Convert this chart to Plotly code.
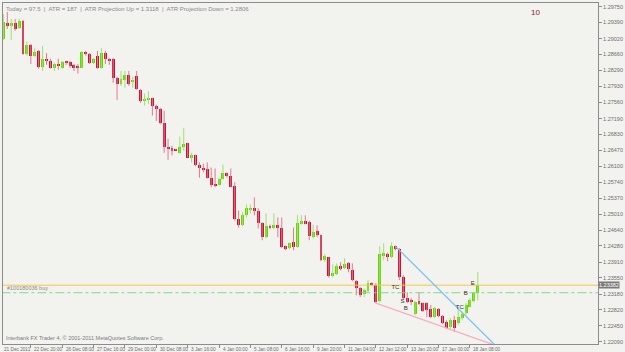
import plotly.graph_objects as go

# ---------------- data (H4 candles) ----------------
bar_index = list(range(122))

opens = [1.2901, 1.2938, 1.2931, 1.2938, 1.2926, 1.2942, 1.2867, 1.2888, 1.2863, 1.2874,
         1.2838, 1.2856, 1.2851, 1.2835, 1.2844, 1.2835, 1.2849, 1.2849, 1.2842, 1.2838,
         1.2835, 1.2872, 1.2867, 1.2847, 1.2863, 1.2835, 1.2869, 1.2856, 1.2856, 1.2812,
         1.2799, 1.2808, 1.2819, 1.2803, 1.2817, 1.2785, 1.2760, 1.2762, 1.2767, 1.2749,
         1.2742, 1.2708, 1.2655, 1.2653, 1.2648, 1.2641, 1.2655, 1.2664, 1.2630, 1.2637,
         1.2612, 1.2607, 1.2605, 1.2584, 1.2568, 1.2568, 1.2582, 1.2594, 1.2589, 1.2564,
         1.2489, 1.2475, 1.2498, 1.2511, 1.2514, 1.2509, 1.2480, 1.2448, 1.2473, 1.2468,
         1.2475, 1.2470, 1.2427, 1.2423, 1.2436, 1.2425, 1.2480, 1.2484, 1.2482, 1.2448,
         1.2461, 1.2452, 1.2395, 1.2402, 1.2359, 1.2363, 1.2381, 1.2377, 1.2388, 1.2372,
         1.2347, 1.2331, 1.2318, 1.2325, 1.2343, 1.2338, 1.2302, 1.2407, 1.2409, 1.2402,
         1.2427, 1.2420, 1.2356, 1.2309, 1.2304, 1.2272, 1.2302, 1.2297, 1.2297, 1.2283,
         1.2265, 1.2283, 1.2268, 1.2254, 1.2242, 1.2258, 1.2252, 1.2263, 1.2274, 1.2288,
         1.2302, 1.2320]
highs = [1.2958, 1.2963, 1.2947, 1.2947, 1.2947, 1.2945, 1.2895, 1.2890, 1.2881, 1.2876,
         1.2885, 1.2869, 1.2856, 1.2847, 1.2856, 1.2851, 1.2851, 1.2851, 1.2844, 1.2844,
         1.2874, 1.2874, 1.2869, 1.2858, 1.2874, 1.2881, 1.2874, 1.2858, 1.2858, 1.2815,
         1.2828, 1.2828, 1.2828, 1.2815, 1.2828, 1.2787, 1.2776, 1.2781, 1.2767, 1.2751,
         1.2744, 1.2737, 1.2673, 1.2657, 1.2650, 1.2678, 1.2698, 1.2664, 1.2641, 1.2637,
         1.2619, 1.2616, 1.2619, 1.2607, 1.2605, 1.2584, 1.2614, 1.2596, 1.2605, 1.2573,
         1.2509, 1.2505, 1.2523, 1.2523, 1.2539, 1.2514, 1.2482, 1.2502, 1.2477, 1.2502,
         1.2493, 1.2493, 1.2429, 1.2436, 1.2470, 1.2498, 1.2498, 1.2498, 1.2486, 1.2477,
         1.2475, 1.2454, 1.2409, 1.2402, 1.2386, 1.2388, 1.2391, 1.2400, 1.2391, 1.2388,
         1.2350, 1.2334, 1.2331, 1.2350, 1.2345, 1.2343, 1.2427, 1.2434, 1.2413, 1.2436,
         1.2429, 1.2423, 1.2361, 1.2322, 1.2309, 1.2302, 1.2322, 1.2299, 1.2299, 1.2293,
         1.2288, 1.2286, 1.2270, 1.2258, 1.2263, 1.2268, 1.2288, 1.2277, 1.2297, 1.2309,
         1.2322, 1.2368]
lows = [1.2899, 1.2924, 1.2899, 1.2920, 1.2924, 1.2865, 1.2863, 1.2844, 1.2860, 1.2833,
        1.2828, 1.2842, 1.2833, 1.2828, 1.2831, 1.2833, 1.2842, 1.2835, 1.2828, 1.2822,
        1.2834, 1.2863, 1.2844, 1.2844, 1.2833, 1.2833, 1.2844, 1.2842, 1.2801, 1.2762,
        1.2794, 1.2790, 1.2794, 1.2790, 1.2785, 1.2755, 1.2749, 1.2753, 1.2726, 1.2714,
        1.2706, 1.2641, 1.2625, 1.2635, 1.2646, 1.2639, 1.2646, 1.2630, 1.2619, 1.2610,
        1.2584, 1.2596, 1.2582, 1.2562, 1.2562, 1.2566, 1.2580, 1.2584, 1.2562, 1.2486,
        1.2470, 1.2473, 1.2493, 1.2502, 1.2498, 1.2468, 1.2441, 1.2445, 1.2466, 1.2466,
        1.2448, 1.2423, 1.2418, 1.2420, 1.2418, 1.2423, 1.2477, 1.2477, 1.2441, 1.2445,
        1.2448, 1.2393, 1.2391, 1.2356, 1.2356, 1.2361, 1.2372, 1.2375, 1.2368, 1.2347,
        1.2315, 1.2311, 1.2311, 1.2322, 1.2336, 1.2297, 1.2299, 1.2395, 1.2393, 1.2400,
        1.2418, 1.2350, 1.2304, 1.2297, 1.2293, 1.2270, 1.2293, 1.2277, 1.2265, 1.2263,
        1.2263, 1.2265, 1.2249, 1.2238, 1.2236, 1.2231, 1.2247, 1.2258, 1.2270, 1.2288,
        1.2299, 1.2304]
closes = [1.2940, 1.2931, 1.2938, 1.2924, 1.2942, 1.2867, 1.2888, 1.2863, 1.2872, 1.2838,
          1.2856, 1.2851, 1.2835, 1.2844, 1.2840, 1.2849, 1.2847, 1.2840, 1.2835, 1.2835,
          1.2872, 1.2867, 1.2847, 1.2856, 1.2835, 1.2869, 1.2856, 1.2851, 1.2812, 1.2799,
          1.2810, 1.2819, 1.2799, 1.2808, 1.2787, 1.2760, 1.2765, 1.2767, 1.2749, 1.2742,
          1.2708, 1.2655, 1.2651, 1.2644, 1.2647, 1.2655, 1.2662, 1.2630, 1.2637, 1.2612,
          1.2607, 1.2603, 1.2584, 1.2568, 1.2567, 1.2582, 1.2594, 1.2589, 1.2562, 1.2489,
          1.2475, 1.2498, 1.2514, 1.2514, 1.2507, 1.2480, 1.2448, 1.2473, 1.2468, 1.2475,
          1.2470, 1.2425, 1.2423, 1.2434, 1.2425, 1.2480, 1.2484, 1.2480, 1.2450, 1.2459,
          1.2452, 1.2395, 1.2404, 1.2359, 1.2366, 1.2381, 1.2377, 1.2386, 1.2375, 1.2350,
          1.2331, 1.2315, 1.2327, 1.2343, 1.2338, 1.2299, 1.2409, 1.2411, 1.2402, 1.2427,
          1.2420, 1.2356, 1.2309, 1.2299, 1.2299, 1.2299, 1.2295, 1.2279, 1.2281, 1.2265,
          1.2286, 1.2268, 1.2252, 1.2240, 1.2258, 1.2240, 1.2265, 1.2272, 1.2293, 1.2304,
          1.2320, 1.2338]

date_labels = ["21 Dec 2011", "22 Dec 20:00", "26 Dec 08:00", "27 Dec 16:00", "29 Dec 00:00",
               "30 Dec 08:00", "3 Jan 16:00", "4 Jan 00:00", "5 Jan 08:00", "6 Jan 16:00",
               "9 Jan 20:00", "11 Jan 04:00", "12 Jan 12:00", "13 Jan 20:00", "17 Jan 00:00",
               "18 Jan 08:00"]
date_bars = [-1, 7, 15, 23, 31, 39, 47, 55, 63, 71, 79, 87, 95, 103, 111, 119]

price_ticks = [1.29750, 1.29390, 1.29020, 1.28660, 1.28290, 1.27930, 1.27560, 1.27190,
               1.26830, 1.26470, 1.26100, 1.25740, 1.25370, 1.25010, 1.24640, 1.24280,
               1.23910, 1.23550, 1.23180, 1.22820, 1.22450, 1.22090]

bid_price = 1.23382
order_price = 1.2321
order_label = "#100180036 buy"

# trend lines (bar, price)
blue_line_bars = [100, 126]
blue_line_prices = [1.2427, 1.2196]
pink_line_bars = [95, 126]
pink_line_prices = [1.2297, 1.2199]

# pattern markers
marker_texts = ["TC", "S", "B", "TC", "B", "E"]
marker_bars = [100.0, 101.8, 102.6, 116.4, 117.9, 119.7]
marker_prices = [1.2334, 1.2302, 1.2284, 1.2288, 1.2320, 1.2343]

info_text = "Today = 97.5  |  ATR = 187  |  ATR Projection Up = 1.3118  |  ATR Projection Down = 1.2806"
corner_number = "10"
copyright_text = "Interbank FX Trader 4, \u00a9 2001-2011 MetaQuotes Software Corp."

# ---------------- styling ----------------
BG = "#F2F2EE"
UP = "#66D600"
DOWN = "#CC1133"
UP_WICK = "#9FE070"
DOWN_WICK = "#E07A8C"
AXIS = "#8C8C8C"
TXT = "#6E6E6E"
FONT = "Liberation Sans, Arial, sans-serif"

W, H = 625, 352
ML, MR, MT, MB = 2, 19, 2, 8
PX_PER_PRICE = 336 / (1.29750 - 1.22090)
y_top = 1.29750 + 3.7 / PX_PER_PRICE
y_bot = 1.22090 - 2.3 / PX_PER_PRICE
BAR_PX = 3.98
x_left = -0.1
x_right = x_left + (W - ML - MR) / BAR_PX

fig = go.Figure()

# wicks
fig.add_trace(go.Ohlc(
    x=bar_index, open=opens, high=highs, low=lows, close=closes,
    tickwidth=0,
    increasing=dict(line=dict(color=UP_WICK, width=1)),
    decreasing=dict(line=dict(color=DOWN_WICK, width=1)),
    hoverinfo="skip", showlegend=False,
))

# bodies
min_h = 1.0 / PX_PER_PRICE
for is_up, col in [(True, UP), (False, DOWN)]:
    xs, bases, hs = [], [], []
    for i, o, c in zip(bar_index, opens, closes):
        if (c >= o) == is_up:
            xs.append(i)
            bases.append(min(o, c))
            hs.append(max(abs(c - o), min_h))
    fig.add_trace(go.Bar(
        x=xs, y=hs, base=bases, width=0.75,
        marker=dict(color=col, line=dict(width=0)),
        hoverinfo="skip", showlegend=False,
    ))

# horizontal lines: bid and order
fig.add_trace(go.Scatter(x=[x_left - 5, x_right + 5], y=[bid_price, bid_price], mode="lines",
                         line=dict(color="#F5C842", width=1), hoverinfo="skip", showlegend=False))
fig.add_trace(go.Scatter(x=[x_left - 5, x_right + 5], y=[order_price, order_price], mode="lines",
                         line=dict(color="#88D888", width=1, dash="dashdot"),
                         hoverinfo="skip", showlegend=False))

# trend lines
fig.add_trace(go.Scatter(x=blue_line_bars, y=blue_line_prices, mode="lines",
                         line=dict(color="#7EC3F0", width=1.3), hoverinfo="skip", showlegend=False))
fig.add_trace(go.Scatter(x=pink_line_bars, y=pink_line_prices, mode="lines",
                         line=dict(color="#F7AFC0", width=1.3), hoverinfo="skip", showlegend=False))

# pattern markers
fig.add_trace(go.Scatter(x=marker_bars, y=marker_prices, mode="text", text=marker_texts,
                         textfont=dict(family=FONT, size=6, color="#333333"),
                         hoverinfo="skip", showlegend=False))

annotations = []
for b, lab in zip(date_bars, date_labels):
    if b < x_left:
        annotations.append(dict(x=0, xref="paper", y=0, yref="paper", text=lab, showarrow=False,
                                xanchor="left", yanchor="top", xshift=-1, yshift=-1,
                                font=dict(family=FONT, size=4.7, color=TXT)))
    else:
        annotations.append(dict(x=b, xref="x", y=0, yref="paper", text=lab, showarrow=False,
                                xanchor="left", yanchor="top", xshift=1.5, yshift=-1,
                                font=dict(family=FONT, size=4.7, color=TXT)))
annotations.append(dict(x=0, xref="paper", y=1, yref="paper", text=info_text, showarrow=False,
                        xanchor="left", yanchor="top", xshift=1, yshift=-1,
                        font=dict(family=FONT, size=6, color="#8A8A8A")))
annotations.append(dict(x=0.895, xref="paper", y=0.971, yref="paper", text=corner_number,
                        showarrow=False, xanchor="center", yanchor="middle",
                        font=dict(family=FONT, size=8, color="#8B1A1A")))
annotations.append(dict(x=0, xref="paper", y=0, yref="paper", text=copyright_text, showarrow=False,
                        xanchor="left", yanchor="bottom", xshift=1, yshift=1,
                        font=dict(family=FONT, size=5.5, color="#7A7A7A")))
annotations.append(dict(x=0, xref="paper", y=order_price, yref="y", text=order_label, showarrow=False,
                        xanchor="left", yanchor="bottom", xshift=2, yshift=0,
                        font=dict(family=FONT, size=5.5, color="#8A8A8A")))
annotations.append(dict(x=1, xref="paper", y=bid_price, yref="y", text="%.5f" % bid_price,
                        showarrow=False, xanchor="left", yanchor="middle", xshift=0,
                        bgcolor="#7A7A7A", borderpad=0,
                        font=dict(family=FONT, size=5.5, color="#FFFFFF")))

fig.update_layout(
    width=W, height=H,
    margin=dict(l=ML, r=MR, t=MT, b=MB),
    paper_bgcolor=BG, plot_bgcolor=BG,
    barmode="overlay", bargap=0,
    showlegend=False,
    annotations=annotations,
    font=dict(family=FONT),
    xaxis=dict(range=[x_left, x_right], showgrid=False, zeroline=False,
               showline=True, mirror=True, linecolor=AXIS, linewidth=1,
               ticks="outside", ticklen=3, tickcolor=AXIS, tickwidth=1,
               tickvals=[b for b in date_bars if b >= 0], showticklabels=False,
               rangeslider=dict(visible=False), fixedrange=True),
    yaxis=dict(range=[y_bot, y_top], side="right", showgrid=False, zeroline=False,
               showline=True, mirror=True, linecolor=AXIS, linewidth=1,
               ticks="outside", ticklen=3, tickcolor=AXIS, tickwidth=1,
               tickvals=price_ticks, ticktext=["%.5f" % v for v in price_ticks],
               tickfont=dict(family=FONT, size=5.5, color=TXT), fixedrange=True),
)

fig.write_html("out.html")
